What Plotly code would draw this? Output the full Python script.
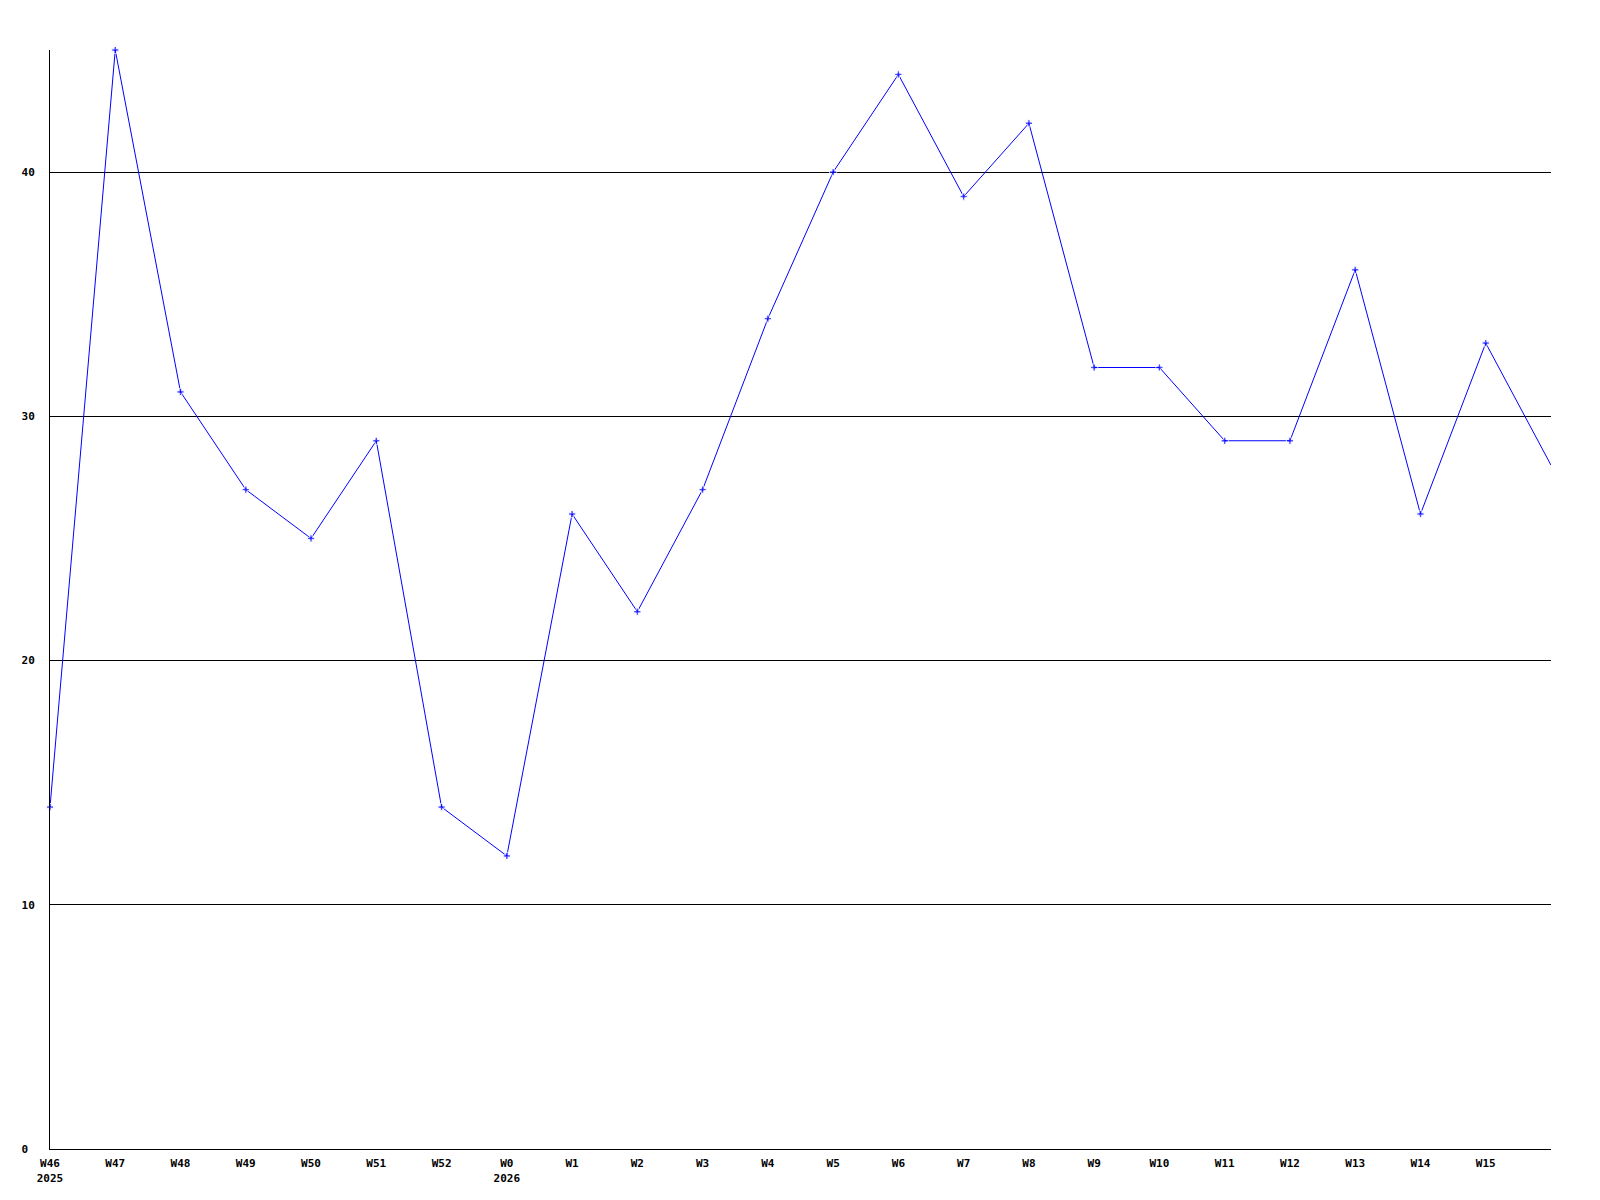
import plotly.graph_objects as go

weeks = ["W46", "W47", "W48", "W49", "W50", "W51", "W52", "W0", "W1", "W2", "W3",
         "W4", "W5", "W6", "W7", "W8", "W9", "W10", "W11", "W12", "W13", "W14", "W15", ""]
years = ["2025", "", "", "", "", "", "", "2026", "", "", "", "",
         "", "", "", "", "", "", "", "", "", "", "", ""]
values = [14, 45, 31, 27, 25, 29, 14, 12, 26, 22, 27, 34,
          40, 44, 39, 42, 32, 32, 29, 29, 36, 26, 33, 28]

y_ticks = [0, 10, 20, 30, 40]

x = list(range(len(values)))
x_text = [w + ("<br>" + yr if yr else "") for w, yr in zip(weeks, years)]
y_text = [f"{v:<2}".replace(" ", "\u00a0") for v in y_ticks]

# the trailing point (cut off at the right edge) has no marker
marker_sizes = [6] * (len(values) - 1) + [0]

tick_font = dict(family="DejaVu Sans Mono", size=11, color="black", weight="bold")

fig = go.Figure()
fig.add_trace(go.Scatter(
    x=x, y=values,
    mode="lines+markers",
    line=dict(color="#0000ff", width=1),
    marker=dict(color="#0000ff", size=marker_sizes, symbol="cross"),
    cliponaxis=False,
    showlegend=False
))

fig.update_xaxes(
    range=[0, len(values) - 1],
    tickmode="array", tickvals=x[:-1], ticktext=x_text[:-1],
    showgrid=False, zeroline=False,
    showline=True, linecolor="black", linewidth=1,
    ticks="", tickfont=tick_font, ticklabelstandoff=4
)
fig.update_yaxes(
    range=[0, 45],
    tickmode="array", tickvals=y_ticks, ticktext=y_text,
    showgrid=True, gridcolor="black", gridwidth=1,
    zeroline=False,
    showline=True, linecolor="black", linewidth=1,
    ticks="", tickfont=tick_font, ticklabelstandoff=12
)

# page body adds 8px offset, so margins are shifted to line up
fig.update_layout(
    width=1600, height=1200,
    margin=dict(l=42, r=57, t=42, b=59, pad=0),
    paper_bgcolor="white",
    plot_bgcolor="white"
)

fig.write_html("out.html")
